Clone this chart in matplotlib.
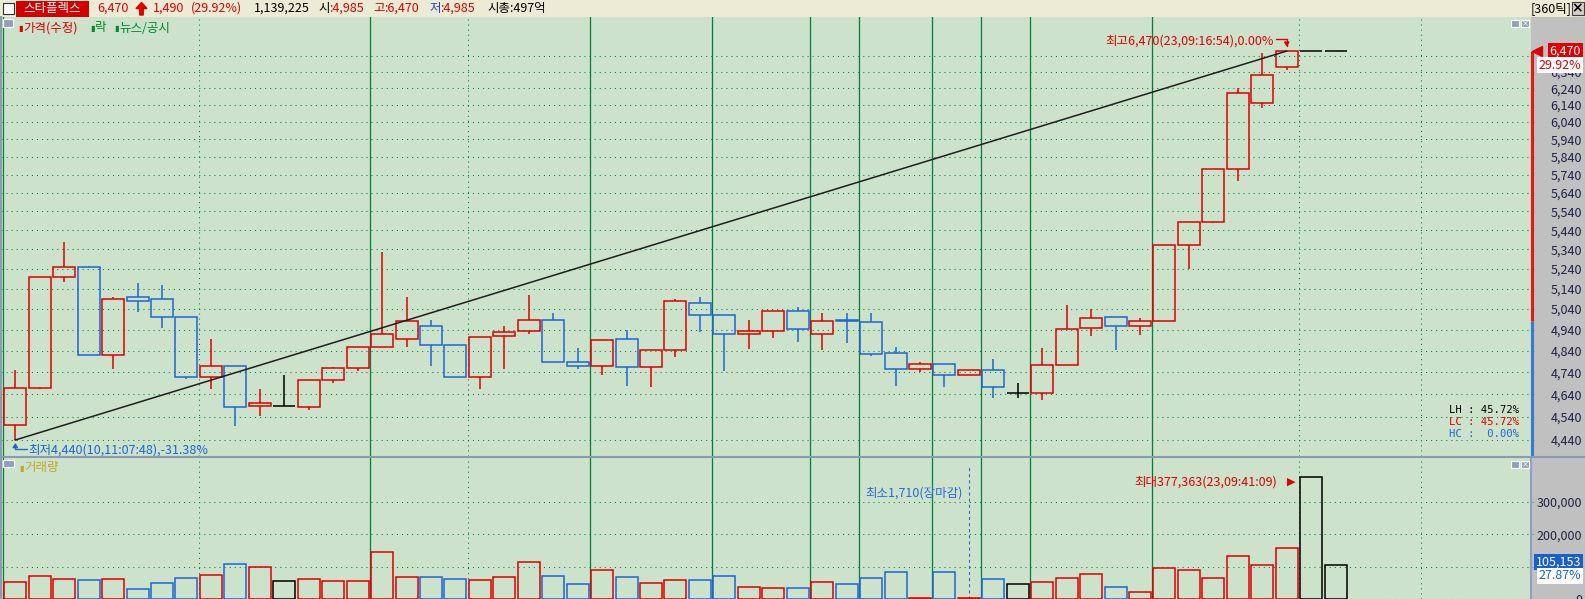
import numpy as np
import matplotlib
matplotlib.use('Agg')
import matplotlib.pyplot as plt
import matplotlib.transforms as mtrans
from matplotlib.patches import Rectangle, FancyArrow
from matplotlib.lines import Line2D
from matplotlib.ticker import FixedLocator, FuncFormatter, NullLocator

plt.rcParams['font.family'] = ['Noto Sans CJK KR', 'DejaVu Sans']
plt.rcParams['lines.scale_dashes'] = False
plt.rcParams['axes.unicode_minus'] = False

# 360-tick candles
opens = [4505, 4670, 5200, 5250, 4820, 5100, 5090, 5000, 4720, 4770,
         4590, 4590, 4585, 4705, 4760, 4860, 4895, 4960, 4870, 4720,
         4910, 4935, 4985, 4790, 4770, 4895, 4765, 4845, 5070, 5010,
         4920, 4935, 5030, 4920, 4985, 4975, 4830, 4755, 4780, 4730,
         4750, 4645, 4645, 4775, 4950, 5000, 4960, 4980, 5360, 5485,
         5770, 6150, 6370, 6470, 6470]
highs = [4750, 5200, 5380, 5255, 5100, 5170, 5160, 5000, 4895, 4770,
         4665, 4730, 4705, 4765, 4860, 5325, 5100, 4985, 4870, 4905,
         4960, 5110, 5020, 4855, 4890, 4940, 4845, 5090, 5100, 5010,
         4985, 5030, 5050, 5020, 5020, 5020, 4860, 4790, 4780, 4750,
         4800, 4690, 4855, 5060, 5040, 5000, 4995, 5360, 5485, 5770,
         6245, 6455, 6470, 6470, 6470]
lows = [4440, 4665, 5175, 4820, 4755, 5025, 4950, 4710, 4665, 4500,
        4545, 4590, 4570, 4690, 4745, 4860, 4860, 4770, 4720, 4665,
        4755, 4920, 4790, 4755, 4730, 4680, 4675, 4810, 4930, 4745,
        4850, 4900, 4880, 4845, 4875, 4815, 4680, 4740, 4675, 4730,
        4625, 4625, 4615, 4775, 4910, 4845, 4915, 4980, 5240, 5480,
        5705, 6125, 6350, 6470, 6470]
closes = [4670, 5200, 5250, 4820, 5090, 5080, 5000, 4720, 4770, 4585,
          4600, 4590, 4705, 4760, 4860, 4920, 4980, 4870, 4720, 4905,
          4930, 4985, 4790, 4770, 4890, 4765, 4845, 5080, 5010, 4920,
          4935, 5030, 4945, 4980, 4980, 4825, 4755, 4780, 4730, 4750,
          4675, 4645, 4775, 4945, 4995, 4960, 4980, 5360, 5485, 5770,
          6210, 6320, 6470, 6470, 6470]
volume = [51500, 70000, 60800, 57700, 60800, 30000, 48500, 63900, 73100, 107000,
          97800, 54600, 60800, 54600, 54600, 144000, 67000, 67000, 60800, 57700,
          67000, 113000, 70000, 45400, 88600, 67000, 48500, 57700, 57700, 70000,
          36100, 33000, 33000, 51500, 45400, 63900, 82400, 4000, 82400, 1710,
          60800, 46000, 52000, 64000, 76000, 36000, 20700, 94800, 88600, 63900,
          131800, 104000, 156500, 377363, 105153]

price_ticks = list(range(4440, 6441, 100))
vol_ticks = [0, 100000, 200000, 300000]
day_breaks = [-0.5, 14.5, 23.5, 28.5, 32.5, 34.5, 37.5, 39.5, 41.5, 46.5]
time_lines = [7.5, 18.5, 52.5, 57.5]

name = '스타플렉스'
last_price = 6470
change = 1490
total_volume = 1139225
day_open, day_high, day_low = 4985, 6470, 4985
market_cap = '497억'
period = '360틱'
hi_time = '23,09:16:54'
lo_time = '10,11:07:48'
max_vol_time = '23,09:41:09'

RED = '#e00000'
BLUE = '#1c66d4'
GREEN = '#00803a'
BG = '#cce2ca'
FRAME = '#8a9bb0'

W, H = 1585, 599
def fx(x):
    return x / W
def fy(y):
    return 1 - y / H

prev_close = last_price - change
change_pct = change / prev_close * 100
x = np.arange(len(opens))
colors = [RED if c > o else BLUE if c < o else '#000000' for o, c in zip(opens, closes)]
body_lo = [min(o, c) for o, c in zip(opens, closes)]
body_hi = [max(o, c) for o, c in zip(opens, closes)]
hi_i = int(np.argmax(highs))
lo_i = int(np.argmin(lows))
mx_i = int(np.argmax(volume))
mn_i = int(np.argmin(volume))

fig = plt.figure(figsize=(15.85, 5.99), dpi=100, facecolor='#c0c0c0')

# ---------- title bar ----------
top = fig.add_axes([0, fy(17), 1, 17 / H])
top.set_xlim(0, W)
top.set_ylim(17, 0)
top.set_facecolor('#ebebd6')
top.set_xticks([])
top.set_yticks([])
for s in top.spines.values():
    s.set_visible(False)
top.add_patch(Rectangle((2.5, 2.5), 11, 11, fc='white', ec='#303030', lw=0.8))
top.add_patch(Rectangle((16, 0.5), 73, 16, fc='#d20000', ec='none'))
top.text(52.5, 8.5, name, color='white', fontsize=9, ha='center', va='center')
def tb(xp, s, c):
    top.text(xp, 8.5, s, color=c, fontsize=9, ha='left', va='center')
tb(97, f'{last_price:,}', RED)
top.add_patch(FancyArrow(141.5, 15, 0, -12.5, width=3.5, head_width=11, head_length=6,
                         length_includes_head=True, color=RED))
tb(153, f'{change:,}', RED)
tb(191, f'({change_pct:.2f}%)', RED)
tb(254, f'{total_volume:,}', 'black')
tb(318, '시', 'black')
tb(329, f':{day_open:,}', RED)
tb(373, '고', RED)
tb(384, f':{day_high:,}', RED)
tb(429, '저', '#3040e0')
tb(440, f':{day_low:,}', RED)
tb(487, f'시총:{market_cap}', 'black')
tb(1531, f'[{period}]', 'black')
top.add_patch(Rectangle((1571.5, 1.5), 12, 13, fc='#d4d0c8', ec='#404040', lw=0.8))
top.text(1577.5, 8, '×', color='black', fontsize=10, fontweight='bold', ha='center', va='center',
         family='DejaVu Sans')

# ---------- price panel ----------
ax = fig.add_axes([fx(1), fy(456), (1531 - 1) / W, (456 - 17) / H])
axv = fig.add_axes([fx(1), 0, (1531 - 1) / W, (599 - 458) / H], sharex=ax)

for a in (ax, axv):
    a.set_facecolor(BG)
    for side in ('top', 'bottom', 'right'):
        a.spines[side].set_visible(False)
    a.spines['left'].set_color(FRAME)
    a.spines['left'].set_linewidth(1.4)
    a.tick_params(axis='x', bottom=False, labelbottom=False)
    for b in day_breaks:
        a.axvline(b, color=GREEN, lw=0.9, zorder=1)
    for t in time_lines:
        a.axvline(t, color=GREEN, lw=0.75, ls=(0, (0.75, 2.9)), zorder=1)
    a.yaxis.tick_right()

ax.set_xlim(-0.585, 61.99)
ax.set_yscale('log')
ax.set_ylim(4371.8, 6686.8)
ax.yaxis.set_major_locator(FixedLocator(price_ticks))
ax.yaxis.set_minor_locator(NullLocator())
ax.yaxis.set_major_formatter(FuncFormatter(lambda v, p: f'{v:,.0f}'))
ax.yaxis.set_minor_formatter(FuncFormatter(lambda v, p: ''))
ax.yaxis.grid(True, color=GREEN, lw=0.75, ls=(0, (0.75, 2.9)))
ax.set_axisbelow(True)

axv.set_ylim(0, 435000)
axv.yaxis.set_major_locator(FixedLocator(vol_ticks))
axv.yaxis.set_major_formatter(FuncFormatter(lambda v, p: f'{v:,.0f}'))
axv.yaxis.grid(True, color=GREEN, lw=0.75, ls=(0, (0.75, 2.9)))
axv.set_axisbelow(True)
axv.spines['right'].set_visible(True)
axv.spines['right'].set_color('#8fa0c8')
axv.spines['right'].set_linewidth(1.5)

for a in (ax, axv):
    a.tick_params(axis='y', which='major', length=2.2, width=0.8, color='#8fa0c8',
                  pad=34.5, labelsize=9, labelcolor='#20204a')
    for lab in a.get_yticklabels():
        lab.set_horizontalalignment('right')

# candles: hollow bodies + wicks
ax.bar(x, np.array(body_hi) - np.array(body_lo), bottom=body_lo, width=0.9,
       facecolor='none', edgecolor=colors, linewidth=1.1, zorder=3)
ax.vlines(x, body_hi, highs, colors=colors, lw=1.1, zorder=3)
ax.vlines(x, lows, body_lo, colors=colors, lw=1.1, zorder=3)

# trend line from lowest low to highest high
ax.plot([x[lo_i], x[hi_i]], [lows[lo_i], highs[hi_i]], color='#1e1e1e', lw=1.1, zorder=4)

ax.annotate(f'최고{highs[hi_i]:,}({hi_time}),{(last_price - highs[hi_i]) / highs[hi_i] * 100:.2f}%',
            xy=(x[hi_i], highs[hi_i]), xytext=(-13, 10), textcoords='offset pixels',
            ha='right', va='center', color=RED, fontsize=9)
ax.annotate('', xy=(x[hi_i], highs[hi_i]), xytext=(-11, 12), textcoords='offset pixels',
            arrowprops=dict(arrowstyle='-|>,head_length=0.25,head_width=0.15', color=RED, lw=1,
                            shrinkA=0, shrinkB=3,
                            connectionstyle='angle,angleA=0,angleB=90,rad=0'))
ax.annotate(f'최저{lows[lo_i]:,}({lo_time}),{(lows[lo_i] - last_price) / last_price * 100:.2f}%',
            xy=(x[lo_i], lows[lo_i]), xytext=(13, -10), textcoords='offset pixels',
            ha='left', va='center', color=BLUE, fontsize=9)
ax.annotate('', xy=(x[lo_i], lows[lo_i]), xytext=(12, -9), textcoords='offset pixels',
            arrowprops=dict(arrowstyle='-|>,head_length=0.25,head_width=0.15', color=BLUE, lw=1,
                            shrinkA=0, shrinkB=2,
                            connectionstyle='angle,angleA=180,angleB=90,rad=0'))

lh = (highs[hi_i] - lows[lo_i]) / lows[lo_i] * 100
lc = (last_price - lows[lo_i]) / lows[lo_i] * 100
hc = (highs[hi_i] - last_price) / last_price * 100
for i, (lab, val, c) in enumerate([('LH', lh, 'black'), ('LC', lc, RED), ('HC', hc, BLUE)]):
    ax.text(0.9922, 0.1037 - i * 0.0267, f'{lab} : {val:5.2f}%', transform=ax.transAxes,
            ha='right', va='center', color=c, fontsize=7.6, family='DejaVu Sans Mono')

# right-edge price bar: red above previous close, blue below
yt = ax.get_yaxis_transform()
ax.plot([1.0008, 1.0008], [prev_close, last_price], transform=yt, color='#e81818', lw=2.2,
        clip_on=False, solid_capstyle='butt', zorder=5)
ax.plot([1.0008, 1.0008], [ax.get_ylim()[0], prev_close], transform=yt, color='#3a78d8', lw=2.2,
        clip_on=False, solid_capstyle='butt', zorder=5)
ax.plot([1.0], [last_price], marker='<', ms=7, color=RED, clip_on=False, zorder=6,
        transform=mtrans.offset_copy(yt, fig=fig, x=6, units='dots'))
ax.annotate(f'{last_price:,}', xy=(1, last_price), xycoords=yt, xytext=(50, 0),
            textcoords='offset pixels', ha='right', va='center', color='white', fontsize=9,
            bbox=dict(boxstyle='square,pad=0.12', fc='#e00000', ec='none'), zorder=6)
ax.annotate(f'{change_pct:.2f}%', xy=(1, last_price), xycoords=yt, xytext=(50, -14),
            textcoords='offset pixels', ha='right', va='center', color=RED, fontsize=9,
            bbox=dict(boxstyle='square,pad=0.12', fc='white', ec='none'), zorder=6)

# ---------- volume panel ----------
axv.bar(x, volume, width=0.9, facecolor='none', edgecolor=colors, linewidth=1.1, zorder=3)

axv.annotate(f'최대{volume[mx_i]:,}({max_vol_time})', xy=(x[mx_i], volume[mx_i]),
             xytext=(-34, -5), textcoords='offset pixels', ha='right', va='center',
             color=RED, fontsize=9)
axv.annotate('▶', xy=(x[mx_i], volume[mx_i]), xytext=(-16, -5), textcoords='offset pixels',
             ha='right', va='center', color=RED, fontsize=8, family='DejaVu Sans')
axv.axvline(x[mn_i], ymin=0, ymax=0.95, color='#2a6ad8', lw=0.8, ls=(0, (2.2, 2.2)), zorder=2)
axv.annotate(f'최소{volume[mn_i]:,}(장마감)', xy=(x[mn_i], 0.75), xycoords=axv.get_xaxis_transform(),
             xytext=(-6, 0), textcoords='offset pixels', ha='right', va='center',
             color='#2a6ad8', fontsize=9)

vt = axv.get_yaxis_transform()
axv.annotate(f'{volume[-1]:,}', xy=(1, volume[-1]), xycoords=vt, xytext=(50, 3),
             textcoords='offset pixels', ha='right', va='center', color='white', fontsize=9,
             bbox=dict(boxstyle='square,pad=0.12', fc='#1a5fd0', ec='none'), zorder=6)
axv.annotate(f'{volume[-1] / volume[mx_i] * 100:.2f}%', xy=(1, volume[-1]), xycoords=vt,
             xytext=(50, -11), textcoords='offset pixels', ha='right', va='center',
             color='#1a5fd0', fontsize=9,
             bbox=dict(boxstyle='square,pad=0.12', fc='white', ec='none'), zorder=6)

# panel separator
fig.add_artist(Line2D([0, 1], [fy(457), fy(457)], transform=fig.transFigure, color=FRAME, lw=1.5))

# legends and panel icons
def icon(x0, y0, w, h):
    fig.add_artist(Rectangle((fx(x0), fy(y0 + h)), w / W, h / H, transform=fig.transFigure,
                             fc='#8fa0b8', ec='white', lw=0.8))
icon(3, 19, 10, 8)
icon(3, 460, 11, 7)
for yy in (19.5, 460.5):
    icon(1511, yy, 8, 7.5)
    icon(1521, yy, 8, 7.5)
    fig.text(fx(1525), fy(yy + 3.8), '×', color='white', fontsize=6, ha='center', va='center',
             family='DejaVu Sans')

def leg(xp, yp, s, c):
    fig.text(fx(xp), fy(yp), '▮', color=c, fontsize=6, ha='left', va='center', family='DejaVu Sans')
    fig.text(fx(xp + 5), fy(yp), s, color=c, fontsize=9, ha='left', va='center')
leg(18, 28, '가격(수정)', RED)
leg(90, 28, '락', '#008a2e')
leg(114, 28, '뉴스/공시', '#008a2e')
leg(19, 468, '거래량', '#c0a830')

fig.savefig('out.png', dpi=100, facecolor=fig.get_facecolor())
